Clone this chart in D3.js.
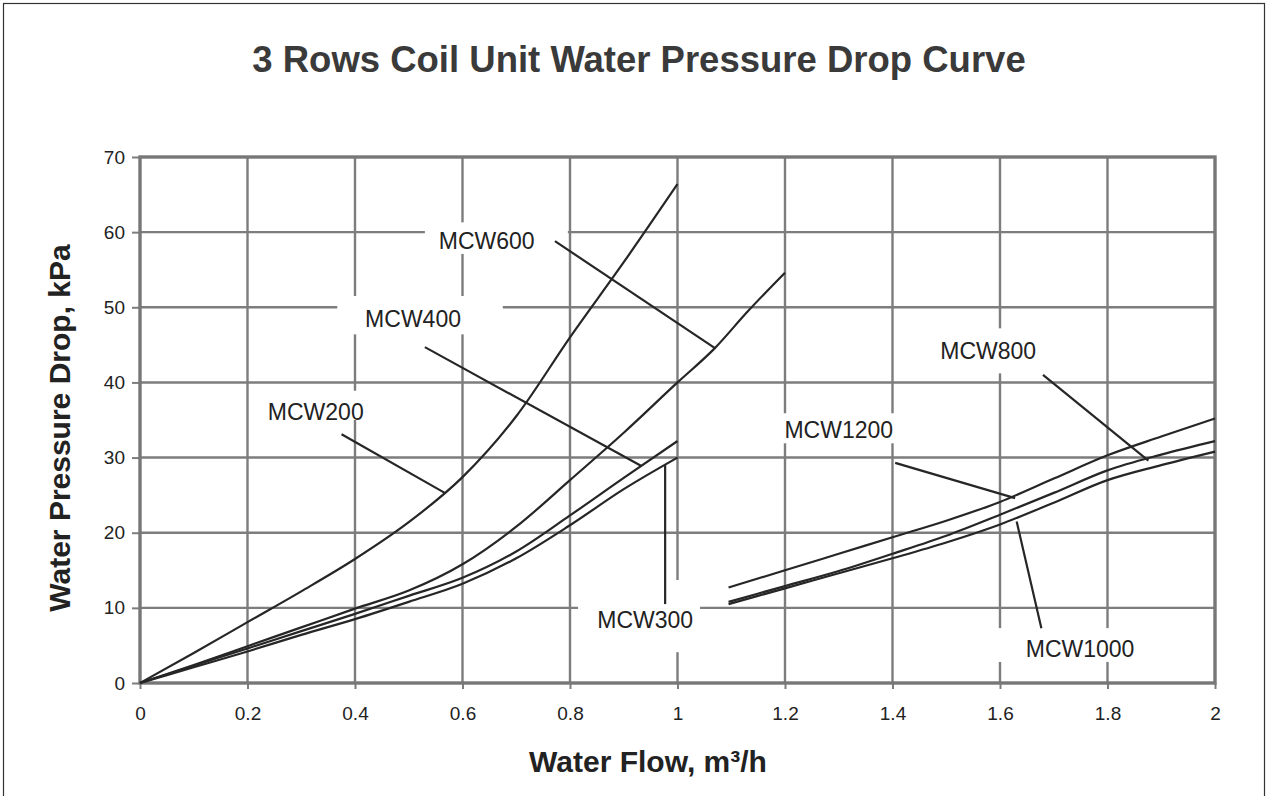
<!DOCTYPE html>
<html>
<head>
<meta charset="utf-8">
<script src="https://cdn.jsdelivr.net/npm/d3@7"></script>
<style>
  html, body { margin: 0; padding: 0; background: #fff; }
  svg { display: block; }
</style>
</head>
<body>
<script>
// ---------- DATA ----------
const chartTitle = "3 Rows Coil Unit Water Pressure Drop Curve";
const xAxisTitle = "Water Flow, m\u00B3/h";
const yAxisTitle = "Water Pressure Drop, kPa";

const xTickValues = [0, 0.2, 0.4, 0.6, 0.8, 1, 1.2, 1.4, 1.6, 1.8, 2];
const xTickLabels = ["0", "0.2", "0.4", "0.6", "0.8", "1", "1.2", "1.4", "1.6", "1.8", "2"];
const yTickValues = [0, 10, 20, 30, 40, 50, 60, 70];
const yTickLabels = ["0", "10", "20", "30", "40", "50", "60", "70"];

const seriesNames = ["MCW200", "MCW600", "MCW400", "MCW300", "MCW1200", "MCW800", "MCW1000"];

const flowSmall = [0, 0.1, 0.2, 0.3, 0.4, 0.5, 0.6, 0.7, 0.8, 0.9, 1.0];
const flowMCW600 = [0, 0.1, 0.2, 0.3, 0.4, 0.5, 0.6, 0.7, 0.8, 0.9, 1.0, 1.07, 1.13, 1.2];
const flowLarge = [1.095, 1.2, 1.3, 1.4, 1.5, 1.6, 1.7, 1.8, 1.9, 2.0];

const dropMCW200 = [0, 4.0, 8.1, 12.2, 16.5, 21.4, 27.4, 35.5, 46.0, 56.0, 66.4];
const dropMCW600 = [0, 2.4, 4.9, 7.4, 9.9, 12.3, 15.8, 20.8, 27.0, 33.3, 40.0, 44.6, 49.4, 54.6];
const dropMCW400 = [0, 2.3, 4.6, 6.9, 9.2, 11.6, 14.0, 17.5, 22.3, 27.3, 32.2];
const dropMCW300 = [0, 2.1, 4.2, 6.4, 8.5, 10.8, 13.2, 16.6, 21.0, 25.8, 30.0];
const dropMCW1200 = [12.7, 15.0, 17.2, 19.4, 21.6, 24.1, 27.2, 30.3, 32.8, 35.2];
const dropMCW800 = [10.8, 12.9, 14.9, 17.2, 19.6, 22.4, 25.3, 28.3, 30.4, 32.2];
const dropMCW1000 = [10.5, 12.6, 14.6, 16.6, 18.7, 21.1, 24.0, 27.0, 29.0, 30.8];

// annotation labels (in data units), their white boxes and leader lines
const labelNames = ["MCW600", "MCW400", "MCW200", "MCW300", "MCW800", "MCW1200", "MCW1000"];
const labelX = [0.645, 0.508, 0.327, 0.940, 1.578, 1.300, 1.749];
const labelY = [58.8, 48.5, 36.1, 8.4, 44.2, 33.7, 4.6];
const boxX1 = [0.530, 0.367, 0.220, 0.815, 1.470, 1.181, 1.590];
const boxX2 = [0.796, 0.675, 0.428, 1.042, 1.684, 1.414, 1.860];
const boxY1 = [57.1, 46.4, 35.0, 4.1, 41.2, 31.9, 2.8];
const boxY2 = [61.3, 51.5, 38.9, 13.7, 47.2, 35.9, 7.3];
const leaderX1 = [0.772, 0.530, 0.375, 0.977, 1.680, 1.405, 1.677];
const leaderY1 = [58.8, 44.7, 33.1, 10.5, 41.0, 29.3, 7.3];
const leaderX2 = [1.069, 0.932, 0.567, 0.977, 1.876, 1.628, 1.631];
const leaderY2 = [44.6, 28.9, 25.3, 29.0, 29.6, 24.6, 21.5];

// ---------- LAYOUT ----------
const W = 1268, H = 796;
const plot = { left: 140, right: 1215, top: 157, bottom: 683 };

const svg = d3.select("body").append("svg")
  .attr("width", W).attr("height", H)
  .style("font-family", "'Liberation Sans', Arial, Helvetica, sans-serif");

svg.append("rect").attr("x", 0).attr("y", 0).attr("width", W).attr("height", H).attr("fill", "#fff");
// outer frame
svg.append("rect").attr("x", 3.5).attr("y", 3.5).attr("width", W - 7).attr("height", H + 20)
  .attr("fill", "none").attr("stroke", "#333").attr("stroke-width", 1.2);

const x = d3.scaleLinear().domain([0, 2]).range([plot.left, plot.right]);
const y = d3.scaleLinear().domain([0, 70]).range([plot.bottom, plot.top]);

const gridColor = "#7d7d7d";

// gridlines
const grid = svg.append("g");
grid.selectAll("line.vx").data(xTickValues.slice(1, -1)).join("line")
  .attr("x1", d => x(d)).attr("x2", d => x(d))
  .attr("y1", plot.top).attr("y2", plot.bottom)
  .attr("stroke", gridColor).attr("stroke-width", 2.4);
grid.selectAll("line.hy").data(yTickValues.slice(1, -1)).join("line")
  .attr("y1", d => y(d)).attr("y2", d => y(d))
  .attr("x1", plot.left).attr("x2", plot.right)
  .attr("stroke", gridColor).attr("stroke-width", 2.4);

// axes (ticks + labels) through d3 axes
const xAxis = d3.axisBottom(x).tickValues(xTickValues)
  .tickFormat((d, i) => xTickLabels[i]).tickSizeOuter(0).tickSizeInner(6).tickPadding(18);
const yAxis = d3.axisLeft(y).tickValues(yTickValues)
  .tickFormat((d, i) => yTickLabels[i]).tickSizeOuter(0).tickSizeInner(8).tickPadding(7);

const gx = svg.append("g").attr("transform", `translate(0,${plot.bottom})`).call(xAxis);
const gy = svg.append("g").attr("transform", `translate(${plot.left},0)`).call(yAxis);
[gx, gy].forEach(g => {
  g.select(".domain").remove();
  g.selectAll(".tick line").attr("stroke", gridColor).attr("stroke-width", 2);
  g.selectAll(".tick text").attr("fill", "#222").style("font-size", "19px")
    .style("font-family", "'Liberation Sans', Arial, sans-serif");
});

// label boxes (white, interrupting the grid)
const labels = labelNames.map((n, i) => ({
  name: n, x: labelX[i], y: labelY[i],
  bx1: boxX1[i], bx2: boxX2[i], by1: boxY1[i], by2: boxY2[i]
}));
svg.append("g").selectAll("rect").data(labels).join("rect")
  .attr("x", d => x(d.bx1)).attr("y", d => y(d.by2))
  .attr("width", d => x(d.bx2) - x(d.bx1)).attr("height", d => y(d.by1) - y(d.by2))
  .attr("fill", "#fff");

// plot border
svg.append("rect")
  .attr("x", plot.left).attr("y", plot.top)
  .attr("width", plot.right - plot.left).attr("height", plot.bottom - plot.top)
  .attr("fill", "none").attr("stroke", "#777").attr("stroke-width", 3.4);

// curves
const series = [
  { name: "MCW200", xs: flowSmall, ys: dropMCW200 },
  { name: "MCW600", xs: flowMCW600, ys: dropMCW600 },
  { name: "MCW400", xs: flowSmall, ys: dropMCW400 },
  { name: "MCW300", xs: flowSmall, ys: dropMCW300 },
  { name: "MCW1200", xs: flowLarge, ys: dropMCW1200 },
  { name: "MCW800", xs: flowLarge, ys: dropMCW800 },
  { name: "MCW1000", xs: flowLarge, ys: dropMCW1000 }
];
const line = d3.line().x(d => x(d[0])).y(d => y(d[1])).curve(d3.curveMonotoneX);
svg.append("g").selectAll("path").data(series).join("path")
  .attr("d", s => line(s.xs.map((v, i) => [v, s.ys[i]])))
  .attr("fill", "none").attr("stroke", "#262626").attr("stroke-width", 2.2);

// leader lines
const leaders = labelNames.map((n, i) => ({ x1: leaderX1[i], y1: leaderY1[i], x2: leaderX2[i], y2: leaderY2[i] }));
svg.append("g").selectAll("line").data(leaders).join("line")
  .attr("x1", d => x(d.x1)).attr("y1", d => y(d.y1))
  .attr("x2", d => x(d.x2)).attr("y2", d => y(d.y2))
  .attr("stroke", "#262626").attr("stroke-width", 2.2);

// label texts
svg.append("g").selectAll("text").data(labels).join("text")
  .attr("x", d => x(d.x)).attr("y", d => y(d.y))
  .attr("text-anchor", "middle").attr("dy", "0.36em")
  .attr("fill", "#222").style("font-size", "23px").text(d => d.name);

// titles
svg.append("text").attr("x", 639).attr("y", 72).attr("text-anchor", "middle")
  .attr("fill", "#3a3a3a").style("font-size", "36.5px").style("font-weight", "bold")
  .text(chartTitle);
svg.append("text").attr("x", 648).attr("y", 772).attr("text-anchor", "middle")
  .attr("fill", "#222").style("font-size", "30px").style("font-weight", "bold")
  .text(xAxisTitle);
svg.append("text").attr("transform", "translate(70,428) rotate(-90)").attr("text-anchor", "middle")
  .attr("fill", "#222").style("font-size", "30px").style("font-weight", "bold")
  .text(yAxisTitle);
</script>
</body>
</html>
